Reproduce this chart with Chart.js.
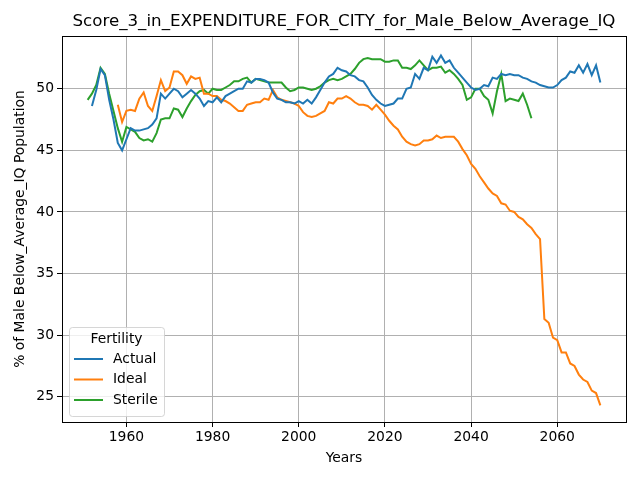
<!DOCTYPE html>
<html>
<head>
<meta charset="utf-8">
<script src="https://cdn.jsdelivr.net/npm/chart.js@4.4.1/dist/chart.umd.min.js"></script>
<style>
  html, body { margin: 0; padding: 0; background: #fff; }
  #wrap { width: 640px; height: 480px; }
</style>
</head>
<body>
<div id="wrap"><canvas id="chart" width="640" height="480"></canvas></div>
<script>
// ===== DADOS =====
const chartTitle = "Score_3_in_EXPENDITURE_FOR_CITY_for_Male_Below_Average_IQ";
const seriesNames = ["Actual", "Ideal", "Sterile"];
const xTicks = [1960, 1980, 2000, 2020, 2040, 2060];
const yTicks = [25, 30, 35, 40, 45, 50];

const actualStart = 1952;
const actualValues = [
  48.6, 49.9, 51.6, 51.1, 49.1, 47.5, 45.6, 45.0, 45.9, 46.8,
  46.6, 46.6, 46.7, 46.8, 47.1, 47.6, 49.6, 49.2, 49.6, 50.0,
  49.8, 49.3, 49.6, 49.9, 49.6, 49.2, 48.6, 49.0, 48.9, 49.3,
  48.9, 49.4, 49.6, 49.8, 50.0, 50.0, 50.6, 50.5, 50.8, 50.8,
  50.7, 50.5, 49.7, 49.2, 49.1, 48.9, 48.9, 48.8, 49.0, 48.8,
  49.1, 48.8, 49.3, 49.9, 50.5, 51.0, 51.2, 51.7, 51.5, 51.4,
  51.1, 51.0, 50.7, 50.6, 50.1, 49.5, 49.1, 48.8, 48.6, 48.7,
  48.8, 49.2, 49.2, 50.0, 50.1, 51.2, 50.8, 51.7, 51.5, 52.6,
  52.1, 52.7, 52.1, 52.3, 51.7, 51.3, 50.9, 50.5, 50.1, 49.9,
  50.0, 50.3, 50.2, 50.9, 50.8, 51.2, 51.1, 51.2, 51.1, 51.1,
  50.9, 50.8, 50.6, 50.5, 50.3, 50.2, 50.1, 50.1, 50.3, 50.7,
  50.9, 51.4, 51.3, 51.9, 51.3, 52.0, 51.1, 51.9, 50.5
];

const idealStart = 1958;
const idealValues = [
  48.7, 47.3, 48.2, 48.3, 48.2, 49.2, 49.7, 48.6, 48.2, 49.4,
  50.7, 49.8, 50.1, 51.4, 51.4, 51.1, 50.4, 51.0, 50.8, 50.9,
  49.6, 49.6, 49.4, 49.4, 49.1, 49.0, 48.8, 48.5, 48.2, 48.2,
  48.7, 48.8, 48.9, 48.9, 49.2, 49.1, 49.9, 49.3, 49.1, 49.0,
  48.9, 48.8, 48.6, 48.1, 47.8, 47.7, 47.8, 48.0, 48.2, 48.9,
  48.8, 49.2, 49.2, 49.4, 49.2, 48.9, 48.7, 48.7, 48.6, 48.3,
  48.7, 48.3, 47.9, 47.4, 47.0, 46.7, 46.1, 45.7, 45.5, 45.4,
  45.5, 45.8, 45.8, 45.9, 46.2, 46.0, 46.1, 46.1, 46.1, 45.7,
  45.1, 44.6, 43.9, 43.5, 42.9, 42.4, 41.9, 41.5, 41.3, 40.7,
  40.6, 40.1, 40.0, 39.6, 39.4, 39.0, 38.7, 38.2, 37.8, 31.3,
  31.0, 29.8, 29.6, 28.6, 28.6, 27.7, 27.5, 26.8, 26.4, 26.2,
  25.5, 25.3, 24.3
];

const sterileStart = 1951;
const sterileValues = [
  49.1, 49.6, 50.3, 51.7, 51.2, 49.6, 48.2, 46.8, 45.7, 46.9,
  46.7, 46.5, 46.0, 45.8, 45.9, 45.7, 46.4, 47.5, 47.6, 47.6,
  48.4, 48.3, 47.7, 48.4, 49.0, 49.5, 49.8, 49.9, 49.6, 50.0,
  49.9, 49.9, 50.1, 50.3, 50.6, 50.6, 50.8, 50.9, 50.5, 50.8,
  50.7, 50.6, 50.5, 50.5, 50.5, 50.5, 50.1, 49.8, 49.9, 50.1,
  50.1, 50.0, 49.9, 50.0, 50.2, 50.5, 50.7, 50.8, 50.7, 50.8,
  51.0, 51.2, 51.6, 52.1, 52.4, 52.5, 52.4, 52.4, 52.4, 52.2,
  52.2, 52.3, 52.3, 51.7, 51.7, 51.6, 51.9, 52.3, 51.9, 51.5,
  51.7, 51.7, 51.8, 51.3, 51.5, 51.2, 50.8, 50.3, 49.1, 49.3,
  50.0, 50.0, 49.4, 49.1, 48.0, 49.8, 51.2, 49.0, 49.2, 49.1,
  49.0, 49.6, 48.7, 47.6
];

const colors = ["#1f77b4", "#ff7f0e", "#2ca02c"];

const toPoints = (start, values) => values.map((v, i) => ({ x: start + i, y: v }));

const FONT = "'DejaVu Sans', sans-serif";

// ===== PLUGINS =====
const framePlugin = {
  id: "frame",
  afterDraw(chart) {
    const { ctx, chartArea: a } = chart;
    ctx.save();
    ctx.strokeStyle = "#000";
    ctx.lineWidth = 1;
    ctx.strokeRect(Math.round(a.left) + 0.5, Math.round(a.top) + 0.5,
      Math.round(a.right - a.left), Math.round(a.bottom - a.top));

    // titulo
    ctx.fillStyle = "#000";
    ctx.font = "16.67px " + FONT;
    ctx.textAlign = "center";
    ctx.textBaseline = "middle";
    ctx.fillText(chartTitle, (a.left + a.right) / 2, 22);

    // legenda
    const bx = a.left + 7, by = a.bottom - 95, bw = 95, bh = 89;
    ctx.globalAlpha = 0.8;
    ctx.fillStyle = "#fff";
    ctx.strokeStyle = "#cccccc";
    ctx.beginPath();
    ctx.roundRect(bx + 0.5, by + 0.5, bw, bh, 3);
    ctx.fill();
    ctx.stroke();
    ctx.globalAlpha = 1;
    ctx.fillStyle = "#000";
    ctx.font = "13.89px " + FONT;
    ctx.textAlign = "center";
    ctx.fillText("Fertility", bx + bw / 2, by + 12);
    ctx.textAlign = "left";
    chart.data.datasets.forEach((ds, i) => {
      const y = by + 32 + i * 20.5;
      ctx.strokeStyle = ds.borderColor;
      ctx.lineWidth = 2;
      ctx.beginPath();
      ctx.moveTo(bx + 5, y);
      ctx.lineTo(bx + 34, y);
      ctx.stroke();
      ctx.fillStyle = "#000";
      ctx.fillText(ds.label, bx + 44, y);
    });
    ctx.restore();
  }
};

// ===== GRAFICO =====
const ctx = document.getElementById("chart");
new Chart(ctx, {
  type: "line",
  data: {
    datasets: [
      { label: seriesNames[0], data: toPoints(actualStart, actualValues) },
      { label: seriesNames[1], data: toPoints(idealStart, idealValues) },
      { label: seriesNames[2], data: toPoints(sterileStart, sterileValues) }
    ].map((ds, i) => ({
      ...ds,
      borderColor: colors[i],
      backgroundColor: colors[i],
      borderWidth: 2,
      pointRadius: 0,
      tension: 0,
      fill: false
    }))
  },
  options: {
    responsive: false,
    animation: false,
    devicePixelRatio: 1,
    layout: { padding: { top: 36, right: 14, left: 0, bottom: 0 } },
    plugins: {
      legend: { display: false },
      title: { display: false },
      tooltip: { enabled: false }
    },
    scales: {
      x: {
        type: "linear",
        min: 1945.05,
        max: 2075.95,
        afterBuildTicks: s => { s.ticks = xTicks.map(v => ({ value: v })); },
        afterFit: s => { s.height = 58; },
        grid: { color: "#b0b0b0", lineWidth: 1, tickColor: "#000", tickLength: 5, drawOnChartArea: true },
        border: { display: false },
        ticks: { color: "#000", font: { family: FONT, size: 13.89 }, padding: 2, maxRotation: 0, callback: v => String(v) },
        title: { display: true, text: "Years", color: "#000", font: { family: FONT, size: 13.89 }, padding: { top: 4, bottom: 13 } }
      },
      y: {
        type: "linear",
        min: 22.95,
        max: 54.28,
        afterBuildTicks: s => { s.ticks = yTicks.map(v => ({ value: v })); },
        afterFit: s => { s.width = 62; },
        grid: { color: "#b0b0b0", lineWidth: 1, tickColor: "#000", tickLength: 5 },
        border: { display: false },
        ticks: { color: "#000", font: { family: FONT, size: 13.89 }, padding: 3, callback: v => String(v) },
        title: { display: true, text: "% of Male Below_Average_IQ Population", color: "#000", font: { family: FONT, size: 13.89 }, padding: { top: 12, bottom: 0 } }
      }
    }
  },
  plugins: [framePlugin]
});
</script>
</body>
</html>
